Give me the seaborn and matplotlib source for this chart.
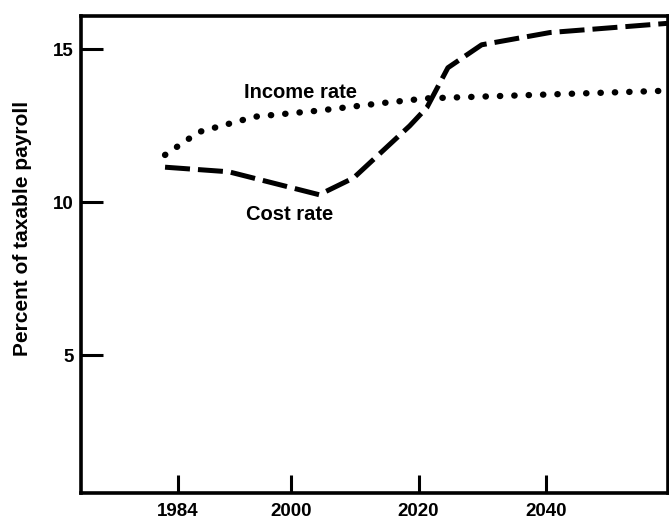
import pandas as pd
import matplotlib.pyplot as plt
import seaborn as sns

sns.set_style("white")
plt.rcParams['font.family'] = ['Liberation Sans', 'DejaVu Sans']
plt.rcParams['text.color'] = 'black'
plt.rcParams['axes.labelcolor'] = 'black'
plt.rcParams['xtick.color'] = 'black'
plt.rcParams['ytick.color'] = 'black'

# Values (years, percent of taxable payroll)
cost_years = [1980.2, 1990.2, 2004.4, 2009.8, 2018.6, 2021.3, 2024.6, 2029.9, 2040.6, 2059.0]
cost_rate = [11.15, 11.0, 10.25, 10.8, 12.5, 13.1, 14.4, 15.15, 15.55, 15.85]

income_years = [1980.2, 1985.5, 1994.3, 2004.4, 2014.5, 2021.3, 2059.0]
income_rate = [11.55, 12.3, 12.8, 13.0, 13.25, 13.4, 13.65]

tick_years = [1982.2, 2000, 2020, 2040]
tick_labels = ['1984', '2000', '2020', '2040']
y_ticks = [5, 10, 15]

cost_df = pd.DataFrame({'year': cost_years, 'rate': cost_rate})
income_df = pd.DataFrame({'year': income_years, 'rate': income_rate})

fig = plt.figure(figsize=(6.69, 5.24), dpi=100)
ax = fig.add_axes([0.121, 0.059, 0.878, 0.911])

sns.lineplot(data=cost_df, x='year', y='rate', ax=ax, color='black',
             linewidth=3.6)
ax.lines[-1].set_linestyle((0, (5, 1.6)))

sns.lineplot(data=income_df, x='year', y='rate', ax=ax, color='black',
             linewidth=4.6)
ax.lines[-1].set_linestyle((0, (0.05, 2.2)))
ax.lines[-1].set_dash_capstyle('round')

ax.set_xlim(1967.0, 2059.2)
ax.set_ylim(0.5, 16.1)
ax.set_xticks(tick_years)
ax.set_xticklabels(tick_labels)
ax.set_yticks(y_ticks)

for s in ax.spines.values():
    s.set_linewidth(2.6)
    s.set_color('black')

ax.tick_params(axis='y', left=True, direction='in', length=16, width=2.2,
               pad=5, labelsize=13.5)
ax.tick_params(axis='x', bottom=True, direction='in', length=13, width=2.2,
               pad=7, labelsize=13.5)
for lab in ax.get_xticklabels() + ax.get_yticklabels():
    lab.set_fontweight('bold')

ax.set_xlabel('')
ax.set_ylabel('Percent of taxable payroll', fontsize=15, fontweight='bold')
ax.yaxis.set_label_coords(-0.083, 0.555)

ax.text(2001.4, 13.6, 'Income rate', fontsize=14.5, fontweight='bold',
        ha='center', va='center')
ax.text(1999.7, 9.6, 'Cost rate', fontsize=14.5, fontweight='bold',
        ha='center', va='center')

fig.savefig('out.png', dpi=100)
